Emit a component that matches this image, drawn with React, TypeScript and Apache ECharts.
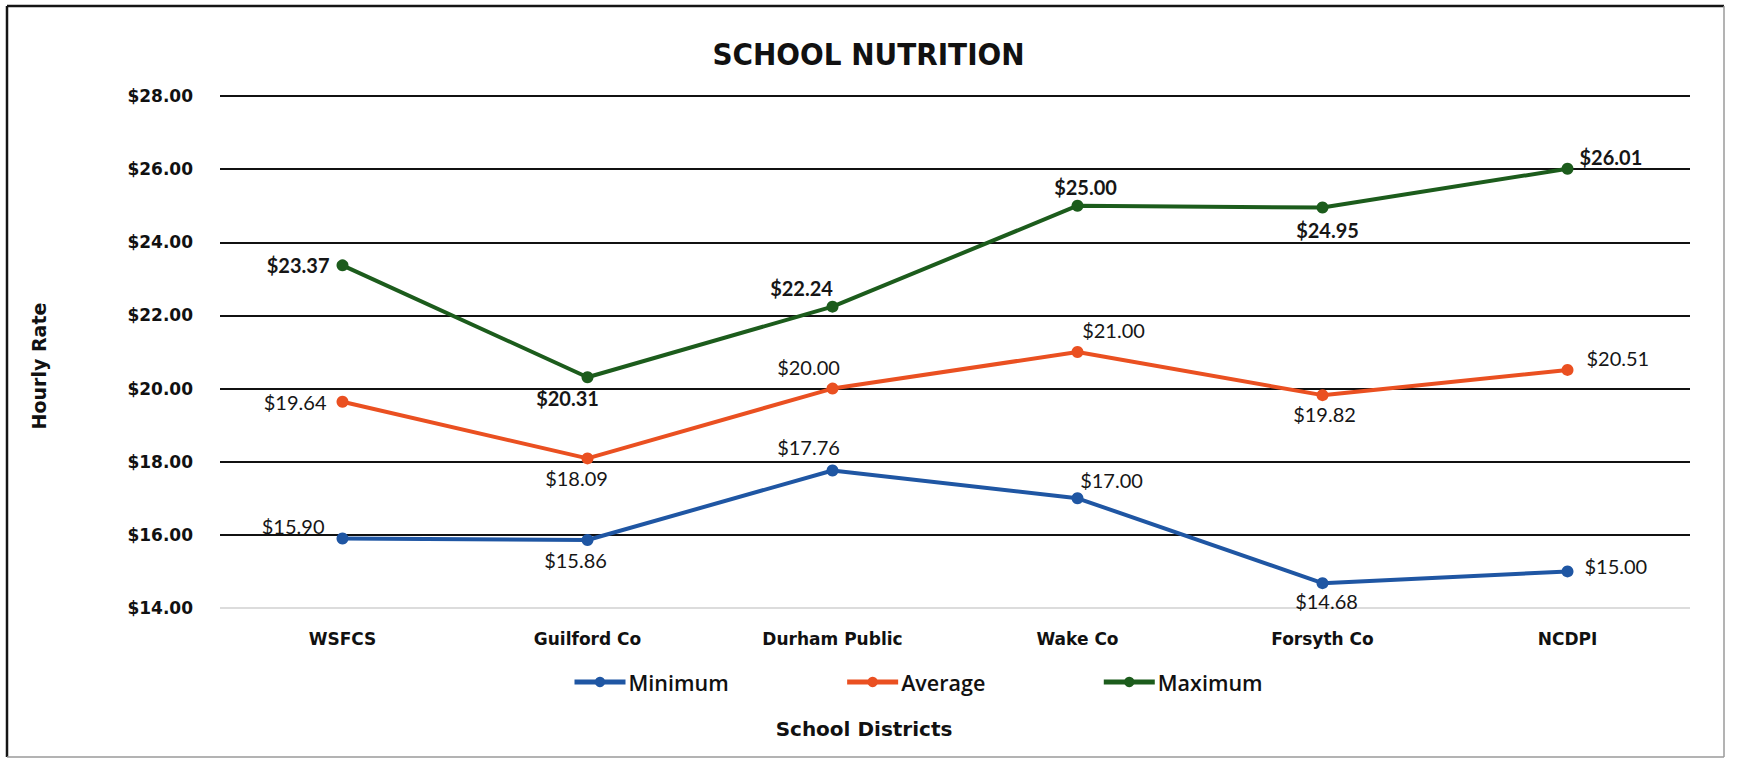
import React, { useEffect, useRef } from "react";
import * as echarts from "echarts";

const categories = ["WSFCS", "Guilford Co", "Durham Public", "Wake Co", "Forsyth Co", "NCDPI"];
const minimum = [15.9, 15.86, 17.76, 17.0, 14.68, 15.0];
const average = [19.64, 18.09, 20.0, 21.0, 19.82, 20.51];
const maximum = [23.37, 20.31, 22.24, 25.0, 24.95, 26.01];
const yMin = 14;
const yMax = 28;
const yStep = 2;

// label placement per point: [position, distance, offset]
const minPlace: any[] = [
  ["left", 12, [0, -13]],
  ["bottom", 4, [-12, 0]],
  ["top", 7, [-24, 0]],
  ["top", 2, [34, 0]],
  ["bottom", 2, [4, 0]],
  ["right", 11, [0, -5]],
];
const avgPlace: any[] = [
  ["left", 10, [0, 0]],
  ["bottom", 4, [-11, 0]],
  ["top", 6, [-24, 0]],
  ["top", 6, [36, 0]],
  ["bottom", 3, [2, 0]],
  ["right", 13, [0, -12]],
];
const maxPlace: any[] = [
  ["left", 7, [0, 0]],
  ["bottom", 5, [-20, 0]],
  ["top", 3, [-31, 0]],
  ["top", 3, [8, 0]],
  ["bottom", 6, [5, 0]],
  ["right", 6, [0, -12]],
];

const money = (v: number) => "$" + v.toFixed(2);

function makeSeries(name: string, values: number[], place: any[], color: string, bold: boolean) {
  return {
    name,
    type: "line",
    symbol: "circle",
    symbolSize: 12,
    lineStyle: { color, width: 4 },
    itemStyle: { color },
    data: values.map((v, i) => ({
      value: v,
      label: {
        position: place[i][0],
        distance: place[i][1],
        offset: place[i][2],
      },
    })),
    label: {
      show: true,
      formatter: (p: any) => money(p.value),
      fontFamily: "Lato, 'Noto Sans', sans-serif",
      fontSize: 20,
      fontWeight: bold ? "bold" : "normal",
      color: "#161616",
    },
  };
}

export default function App() {
  const ref = useRef<HTMLDivElement>(null);
  useEffect(() => {
    if (!ref.current) return;
    const chart = echarts.init(ref.current, undefined, { renderer: "svg" });
    const gridColors = ["#dcdcdc", "#111", "#111", "#111", "#111", "#111", "#111", "#111"];
    chart.setOption({
      animation: false,
      backgroundColor: "#ffffff",
      title: {
        text: "SCHOOL NUTRITION",
        left: "center",
        top: 33,
        textStyle: {
          fontFamily: "'DejaVu Sans Condensed', 'Liberation Sans', Arial, sans-serif",
          fontWeight: "bold",
          fontSize: 31,
          color: "#111",
        },
      },
      legend: {
        left: 567,
        top: 666,
        itemWidth: 51,
        itemHeight: 13,
        itemGap: 116,
        lineStyle: { width: 5 },
        textStyle: {
          fontFamily: "'Open Sans', sans-serif",
          fontSize: 21.5,
          fontWeight: 600,
          color: "#111",
          padding: [0, 0, 0, -2],
        },
        data: ["Minimum", "Average", "Maximum"],
      },
      grid: { left: 220, right: 47, top: 96, bottom: 154 },
      xAxis: {
        type: "category",
        data: categories,
        boundaryGap: true,
        name: "School Districts",
        nameLocation: "middle",
        nameGap: 111,
        nameTextStyle: {
          fontFamily: "'DejaVu Sans', sans-serif",
          fontWeight: "bold",
          fontSize: 20,
          color: "#111",
          padding: [0, 182, 0, 0],
        },
        axisLine: { show: false },
        axisTick: { show: false },
        axisLabel: {
          margin: 22,
          fontFamily: "'DejaVu Sans', sans-serif",
          fontWeight: "bold",
          fontSize: 17,
          color: "#111",
        },
      },
      yAxis: {
        type: "value",
        min: yMin,
        max: yMax,
        interval: yStep,
        name: "Hourly Rate",
        nameLocation: "middle",
        nameGap: 172,
        nameTextStyle: {
          fontFamily: "'DejaVu Sans', sans-serif",
          fontWeight: "bold",
          fontSize: 19,
          color: "#111",
          padding: [0, 28, 0, 0],
        },
        axisLine: { show: false },
        axisTick: { show: false },
        axisLabel: {
          margin: 27,
          formatter: (v: number) => money(v),
          fontFamily: "'DejaVu Sans', sans-serif",
          fontWeight: "bold",
          fontSize: 17,
          color: "#111",
        },
        splitLine: { show: true, lineStyle: { color: gridColors, width: 2 } },
      },
      graphic: [
        { type: "line", shape: { x1: 7, y1: 6, x2: 1724, y2: 6 }, style: { stroke: "#151515", lineWidth: 2.5 } },
        { type: "line", shape: { x1: 7, y1: 6, x2: 7, y2: 757 }, style: { stroke: "#151515", lineWidth: 2.5 } },
        { type: "line", shape: { x1: 1724, y1: 6, x2: 1724, y2: 757 }, style: { stroke: "#9a9a9a", lineWidth: 1.5 } },
        { type: "line", shape: { x1: 7, y1: 757, x2: 1724, y2: 757 }, style: { stroke: "#9a9a9a", lineWidth: 1.5 } },
      ],
      series: [
        makeSeries("Minimum", minimum, minPlace, "#1f56a3", false),
        makeSeries("Average", average, avgPlace, "#ea5021", false),
        makeSeries("Maximum", maximum, maxPlace, "#1c5c1c", true),
      ],
    });
    return () => chart.dispose();
  }, []);
  return (
    <div
      ref={ref}
      style={{ position: "fixed", left: 0, top: 0, width: 1737, height: 762, background: "#fff" }}
    />
  );
}
